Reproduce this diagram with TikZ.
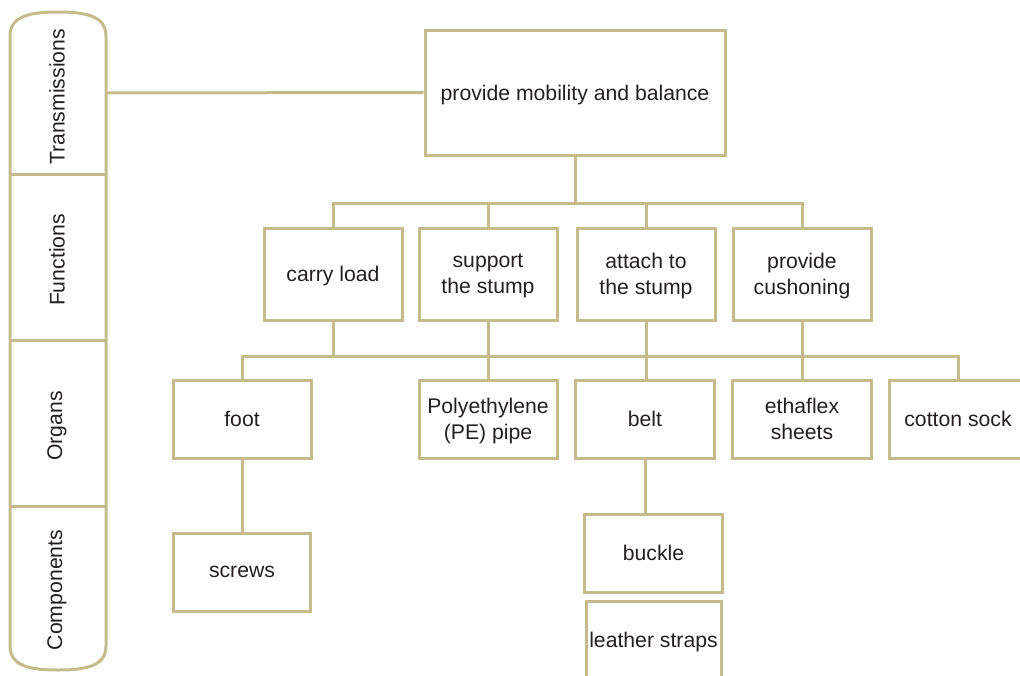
\documentclass[tikz,border=0pt]{standalone}
\usepackage{fontspec}
\setmainfont{Liberation Sans}
\definecolor{tan}{RGB}{196,186,138}
\definecolor{ink}{RGB}{35,31,32}
\begin{document}
\begin{tikzpicture}[x=1pt,y=-1pt,
  every node/.style={text=ink,font=\fontsize{21.2}{26}\selectfont},
  box/.style={draw=tan,line width=3pt,inner sep=0pt,minimum width=138pt,minimum height=78pt,align=center,text depth=0pt},
  fbox/.style={box,minimum height=92pt},
  link/.style={draw=tan,line width=3pt},
  level/.style={rotate=90,inner sep=0pt}]
\useasboundingbox (0,0) rectangle (1020,675);

% level bar on the left
\draw[link] (10,340) -- (10,36) .. controls (10,16) and (30,12) .. (58,12)
  .. controls (86,12) and (106,16) .. (106,36) -- (106,646)
  .. controls (106,666) and (86,670) .. (58,670)
  .. controls (30,670) and (10,666) .. (10,646) -- cycle;
\draw[link] (10,174) -- (106,174);
\draw[link] (10,340) -- (106,340);
\draw[link] (10,506) -- (106,506);
\node[level] (lT) at (57,97) {Transmissions};
\node[level] (lF) at (57,260) {Functions};
\node[level] (lO) at (57,426) {Organs};
\node[level] (lC) at (57,590) {Components};
\coordinate (barT) at (106,93);

% transmission
\node[box,minimum width=300pt,minimum height=125pt] (top) at (575,92.5) {provide mobility and balance};

% functions
\node[fbox] (carry) at (333,274) {carry load};
\node[fbox] (support) at (488,274) {support\\the stump};
\node[fbox] (attach) at (646,274) {attach to\\the stump};
\node[fbox] (cushion) at (802,274) {provide\\cushoning};

% organs
\node[box] (foot) at (242,419) {foot};
\node[box] (pe) at (488,419) {Polyethylene\\(PE) pipe};
\node[box,minimum width=139pt] (belt) at (645,419) {belt};
\node[box,minimum width=139pt] (etha) at (802,419) {ethaflex\\sheets};
\node[box] (sock) at (958,419) {cotton sock};

% components
\node[box,minimum width=137pt] (screws) at (242,572) {screws};
\node[box] (buckle) at (653.5,553) {buckle};
\node[box,minimum width=135pt] (straps) at (653.5,640) {leather straps};

% connectors
\coordinate (fbus) at (0,203);
\coordinate (obus) at (0,356);
\draw[link] (barT) -- (top.west);
\draw[link] (top.south) -- (top.south |- fbus);
\draw[link] (carry.north) -- (carry.north |- fbus) -- (cushion.north |- fbus) -- (cushion.north);
\draw[link] (support.north) -- (support.north |- fbus);
\draw[link] (attach.north) -- (attach.north |- fbus);

\draw[link] (foot.north) -- (foot.north |- obus) -- (sock.north |- obus) -- (sock.north);
\draw[link] (carry.south) -- (carry.south |- obus);
\draw[link] (support.south) -- (pe.north);
\draw[link] (attach.south) -- (attach.south |- belt.north);
\draw[link] (cushion.south) -- (etha.north);

\draw[link] (foot.south) -- (screws.north);
\draw[link] (belt.south) -- (belt.south |- buckle.north);
\end{tikzpicture}
\end{document}
